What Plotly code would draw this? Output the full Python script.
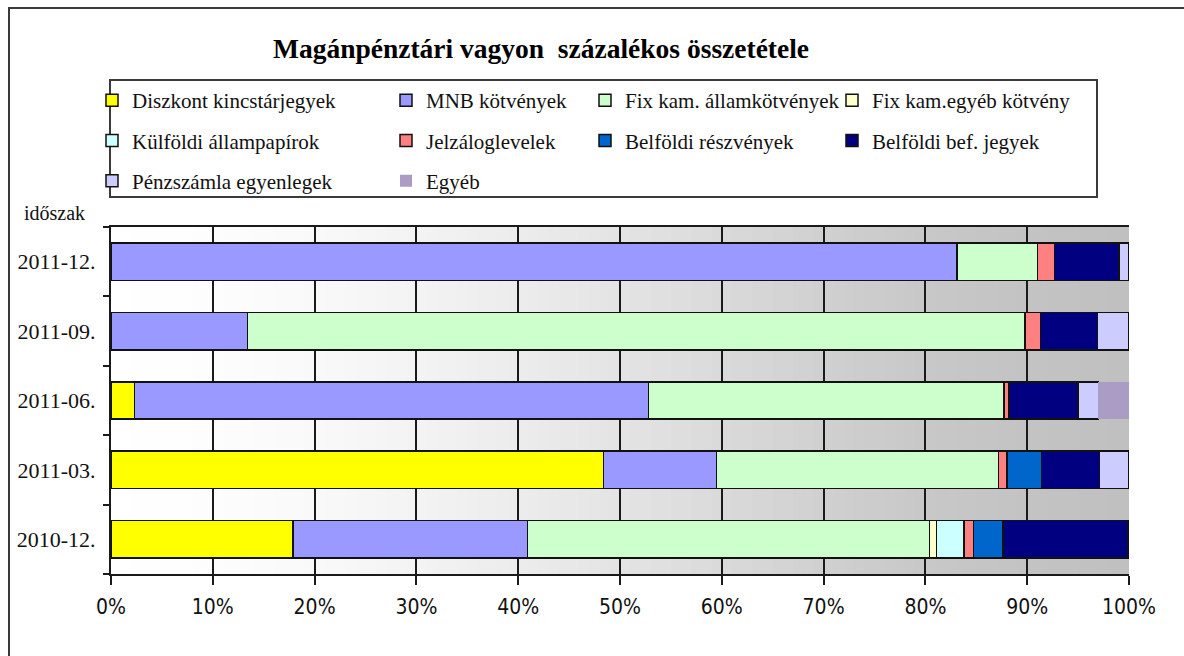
import plotly.graph_objects as go

# ---- data (percent of total assets) ----
periods = ["2010-12.", "2011-03.", "2011-06.", "2011-09.", "2011-12."]
diszkont = [17.9, 48.4, 2.3, 0.0, 0.0]
mnb = [23.0, 11.1, 50.5, 13.4, 83.1]
fix_allam = [39.5, 27.7, 34.9, 76.4, 7.9]
fix_egyeb = [0.7, 0.0, 0.0, 0.0, 0.0]
kulfoldi = [2.7, 0.0, 0.0, 0.0, 0.0]
jelzalog = [0.9, 0.8, 0.5, 1.5, 1.7]
reszveny = [2.9, 3.4, 0.0, 0.0, 0.0]
bef_jegy = [12.3, 5.7, 6.8, 5.6, 6.3]
penzszamla = [0.1, 2.9, 2.0, 3.1, 1.0]
egyeb = [0.0, 0.0, 3.0, 0.0, 0.0]

series_names = ["Diszkont kincstárjegyek", "MNB kötvények", "Fix kam. államkötvények",
                "Fix kam.egyéb kötvény", "Külföldi állampapírok", "Jelzáloglevelek",
                "Belföldi részvények", "Belföldi bef. jegyek", "Pénzszámla egyenlegek", "Egyéb"]
series_values = [diszkont, mnb, fix_allam, fix_egyeb, kulfoldi, jelzalog,
                 reszveny, bef_jegy, penzszamla, egyeb]
x_ticks = [0, 10, 20, 30, 40, 50, 60, 70, 80, 90, 100]
x_tick_labels = ["0%", "10%", "20%", "30%", "40%", "50%", "60%", "70%", "80%", "90%", "100%"]

# ---- styles ----
colors = ["#ffff00", "#9999ff", "#ccffcc", "#ffffcc", "#ccffff", "#ff8080",
          "#0066cc", "#000080", "#ccccff", "#aa9cc4"]
legend_of = ["legend", "legend2", "legend3", "legend4", "legend",
             "legend2", "legend3", "legend4", "legend", "legend2"]

W, H = 1184, 656
L, R, T, B = 111, 1129, 227, 574  # plot-area pixel box


def px_x(p):
    return (p - L) / (R - L)


def px_y(p):
    return (B - p) / (B - T)


SERIF = "Liberation Serif, Times New Roman, serif"

fig = go.Figure()
for name, vals, col, lg in zip(series_names, series_values, colors, legend_of):
    fig.add_trace(go.Bar(
        y=periods, x=[v if v > 0 else None for v in vals], name=name, orientation="h",
        marker=dict(color=col,
                    line=dict(color="#111111", width=0 if name == "Egyéb" else 1.5)),
        legend=lg, legendgroup=name,
        hovertemplate="%{y}: %{x:.1f}%<extra>" + name + "</extra>",
    ))

# background gradient (white -> grey) behind the bars
levels = [255, 253, 249, 243, 236, 228, 218, 208, 200, 195, 192]
shapes = []
n = 100
for i in range(n):
    f = (i + 0.5) / n * 10
    k = min(int(f), 9)
    g = levels[k] + (levels[k + 1] - levels[k]) * (f - k)
    g = int(round(g))
    shapes.append(dict(type="rect", xref="x", yref="paper",
                       x0=i * 100 / n, x1=min(100, (i + 2) * 100 / n), y0=0, y1=1,
                       fillcolor=f"rgb({g},{g},{g})", line=dict(width=0), layer="below"))

# outer chart frame
shapes.append(dict(type="rect", xref="paper", yref="paper",
                   x0=px_x(9), x1=px_x(1200), y0=px_y(680), y1=px_y(8),
                   line=dict(color="#3a3a3a", width=2), fillcolor="rgba(0,0,0,0)", layer="above"))
# legend frame
shapes.append(dict(type="rect", xref="paper", yref="paper",
                   x0=px_x(110), x1=px_x(1097), y0=px_y(197), y1=px_y(80),
                   line=dict(color="#3a3a3a", width=2), fillcolor="rgba(0,0,0,0)", layer="above"))

leg_font = dict(family=SERIF, size=21, color="#111111")
leg_common = dict(orientation="v", bgcolor="rgba(0,0,0,0)", borderwidth=0, font=leg_font,
                  tracegroupgap=10, yanchor="top", y=px_y(80), xanchor="left",
                  itemclick=False, itemdoubleclick=False)

fig.update_layout(
    width=W, height=H,
    margin=dict(l=L, r=W - R, t=T, b=H - B),
    paper_bgcolor="white", plot_bgcolor="rgba(0,0,0,0)",
    barmode="stack", bargap=0.46,
    title=dict(text="<b>Magánpénztári vagyon  százalékos összetétele</b>",
               x=541 / W, xanchor="center", y=1 - 48 / H, yanchor="middle",
               font=dict(family=SERIF, size=27.5, color="#000000")),
    showlegend=True,
    legend=dict(leg_common, x=px_x(92)),
    legend2=dict(leg_common, x=px_x(386)),
    legend3=dict(leg_common, x=px_x(585)),
    legend4=dict(leg_common, x=px_x(832)),
    xaxis=dict(range=[0, 100], tickmode="array", tickvals=x_ticks, ticktext=x_tick_labels,
               showgrid=True, gridcolor="#1a1a1a", gridwidth=2,
               showline=True, linecolor="#1a1a1a", linewidth=2, mirror=True,
               ticks="outside", ticklen=9, tickwidth=2, tickcolor="#1a1a1a",
               ticklabelstandoff=4,
               tickfont=dict(family="DejaVu Sans Condensed, DejaVu Sans, sans-serif", size=21,
                             color="#111111"),
               zeroline=False, fixedrange=True),
    yaxis=dict(categoryorder="array", categoryarray=periods,
               showgrid=False, showline=True, linecolor="#1a1a1a", linewidth=2,
               ticks="outside", ticklen=6, tickwidth=2, tickcolor="#1a1a1a",
               tickson="boundaries", ticklabelstandoff=9,
               tickfont=dict(family=SERIF, size=22, color="#111111"),
               fixedrange=True),
    shapes=shapes,
    annotations=[dict(text="időszak", xref="paper", yref="paper",
                      x=px_x(22), xanchor="left", y=px_y(213), yanchor="middle",
                      showarrow=False, font=dict(family=SERIF, size=20, color="#111111"))],
)

fig.write_html("out.html", config={"displayModeBar": False},
               post_script="document.body.style.margin='0px';")
